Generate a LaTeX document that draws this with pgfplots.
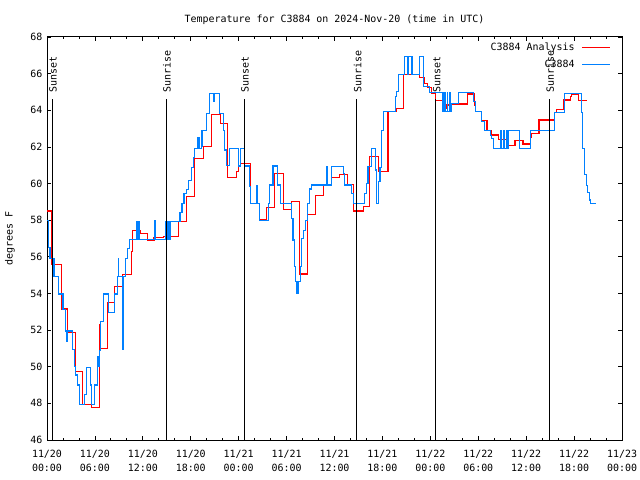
\documentclass[border=0pt]{standalone}
\usepackage{fontspec}
\setmainfont{DejaVu Sans Mono}
\usepackage{pgfplots}
\pgfplotsset{compat=1.18}
\definecolor{obsblue}{RGB}{0,128,255}
\begin{document}
\fontsize{10}{12}\selectfont
\begin{tikzpicture}
\path[use as bounding box] (0,0) rectangle (640bp,480bp);
\begin{axis}[
  at={(47bp,40bp)}, anchor=south west,
  width=575bp, height=403bp, scale only axis,
  xmin=0, xmax=72, ymin=46, ymax=68,
  clip=false,
  xtick={0,6,...,72},
  xticklabels={{11/20\\00:00},{11/20\\06:00},{11/20\\12:00},{11/20\\18:00},{11/21\\00:00},{11/21\\06:00},{11/21\\12:00},{11/21\\18:00},{11/22\\00:00},{11/22\\06:00},{11/22\\12:00},{11/22\\18:00},{11/23\\00:00}},
  xticklabel style={align=center, anchor=north, yshift=-7bp, font=\fontsize{10}{14}\selectfont},
  minor x tick num=2,
  ytick={46,48,...,68},
  yticklabel style={xshift=-1bp},
  tick align=inside,
  major tick length=4bp, minor tick length=2bp,
  tick style={black, line width=0.8bp},
  axis line style={line width=1bp},
  /pgf/number format/assume math mode=true,
  title={Temperature for C3884 on 2024-Nov-20 (time in UTC)},
  title style={at={(0.5,1)}, anchor=center, yshift=11bp},
  ylabel={degrees F},
  ylabel style={at={(axis description cs:-0.0643,0.5)}, anchor=center},
  legend style={at={(1,1)}, anchor=north east, xshift=-11bp, yshift=-4bp, draw=none, fill=none, inner sep=0pt, row sep=4bp,
    /tikz/every odd column/.append style={column sep=5bp}},
  legend plot pos=right,
  legend cell align=right,
  legend image code/.code={\draw[#1] (0bp,0bp) -- (28bp,0bp);},
]
\addplot[const plot, red, line width=1.1bp] coordinates {
(0,58.5) (0.6,55.6) (1.8,53.15) (2.6,51.85) (3.6,49.75) (4.5,47.95) (5.6,47.75)
(6.6,52.3) (6.7,51.0) (7.55,53.5) (8.5,54.4) (9.4,55.05) (10.6,56.3) (10.75,57.45)
(11.7,57.25) (12.6,56.92) (13.4,57.07) (14.6,57.1) (16.45,57.92) (17.5,59.28)
(18.5,61.38) (19.6,62.0) (20.6,63.78) (21.7,63.29) (22.6,60.34) (23.7,60.65)
(24.0,60.96) (24.2,61.07) (25.5,58.9) (26.6,58.05) (27.5,58.68) (28.5,60.56)
(29.6,58.56) (30.6,59.0) (31.6,55.06) (32.6,58.32) (33.6,59.37) (34.6,59.96)
(35.6,60.32) (36.6,60.47) (37.6,59.96) (38.4,58.5) (39.6,58.77) (40.4,61.5)
(41.5,60.65) (42.7,63.92) (43.7,64.1) (44.6,65.93) (46.6,65.8) (47.3,65.47)
(47.6,65.25) (48.2,64.93) (48.6,64.52) (49.5,64.1) (50.0,64.29) (50.7,64.34)
(52.6,64.89) (53.5,64.29) (53.7,63.92) (54.4,63.45) (55.1,62.92) (55.7,62.65)
(56.5,62.41) (57.1,62.38) (57.7,62.1) (58.6,62.34) (59.6,62.16) (60.5,62.5)
(60.7,62.72) (61.6,63.47) (63.6,63.89) (63.8,64.05) (64.7,64.56) (65.5,64.74)
(65.7,64.89) (66.6,64.51) (67.6,64.51)
};
\addlegendentry{C3884 Analysis}
\addplot[const plot, obsblue, line width=1.1bp] coordinates {
(0.0,58.0) (0.17,56.5) (0.38,55.9) (0.88,54.95) (1.4,53.97) (2.0,53.13) (2.3,51.95)
(2.45,51.4) (2.55,51.95) (3.2,50.95) (3.4,50.0) (3.6,49.55) (3.8,49.0) (4.1,47.95)
(4.7,48.46) (5.0,49.97) (5.4,49.0) (5.6,47.95) (6.0,49.0) (6.3,50.55) (6.5,50.0)
(6.6,50.9) (6.7,52.46) (7.1,53.97) (7.7,52.97) (8.4,53.97) (8.8,54.92) (8.9,55.92)
(9.0,54.92) (9.5,50.95) (9.6,54.92) (9.8,55.9) (10.1,56.46) (10.3,56.95) (11.2,57.92)
(11.3,56.95) (11.45,57.92) (11.6,56.95) (13.45,58.0) (13.55,56.95) (14.9,57.92)
(15.1,56.96) (15.2,57.92) (15.3,56.96) (15.4,57.92) (16.65,58.41) (16.9,58.92)
(17.15,59.47) (17.5,59.69) (17.7,60.19) (18.1,60.89) (18.3,61.43) (18.5,61.92)
(18.8,62.5) (18.9,61.92) (19.0,62.5) (19.1,61.92) (19.3,62.92) (19.4,62.0)
(19.5,62.92) (20.0,63.83) (20.3,64.93) (20.9,64.5) (21.0,64.93) (21.6,63.83)
(22.1,62.92) (22.2,61.83) (22.5,61.0) (22.8,61.92) (24.0,60.96) (24.2,61.92)
(24.7,60.96) (25.3,59.83) (25.5,58.92) (26.3,59.9) (26.4,58.92) (26.6,57.97)
(27.7,58.92) (27.9,59.92) (28.3,60.96) (28.9,59.92) (29.2,58.92) (30.6,58.1)
(30.8,56.92) (31.0,55.46) (31.1,54.64) (31.3,54.0) (31.5,54.64) (31.7,55.46)
(31.9,57.0) (32.1,57.46) (32.4,58.0) (32.6,58.92) (32.9,59.7) (33.1,59.92)
(35.0,60.92) (35.1,59.92) (35.65,60.92) (37.1,60.56) (37.3,59.92) (38.15,59.47)
(38.35,58.92) (39.8,59.47) (40.0,60.01) (40.2,60.92) (40.6,61.92) (41.1,60.74)
(41.3,58.92) (41.5,60.1) (41.7,60.9) (41.9,62.92) (42.1,63.92) (43.6,64.74)
(43.8,65.01) (44.0,65.93) (44.8,66.93) (45.1,65.93) (45.3,66.93) (45.7,65.93)
(46.6,66.93) (47.2,65.29) (47.9,64.96) (49.5,63.92) (49.6,64.96) (49.7,63.92)
(49.8,64.96) (49.9,63.92) (50.1,64.96) (50.2,63.92) (50.4,64.96) (50.5,63.92)
(50.7,64.38) (51.5,64.96) (53.4,64.5) (53.7,63.92) (54.4,63.38) (54.8,62.92)
(55.5,62.6) (55.7,62.47) (55.9,61.92) (56.8,62.92) (56.9,61.92) (57.2,62.92)
(57.3,61.92) (57.5,62.92) (57.6,61.92) (57.8,62.92) (59.2,61.92) (60.5,62.92)
(63.5,63.89) (64.8,64.93) (66.9,63.9) (67.1,61.9) (67.3,60.5) (67.5,59.9)
(67.7,59.5) (67.9,59.1) (68.1,58.92) (68.75,58.92)
};
\addlegendentry{C3884}
% sunrise / sunset markers
\addplot[black, line width=0.9bp, forget plot] coordinates {(0.63,46) (0.63,64.6)};
\addplot[black, line width=0.9bp, forget plot] coordinates {(14.9,46) (14.9,64.6)};
\addplot[black, line width=0.9bp, forget plot] coordinates {(24.67,46) (24.67,64.6)};
\addplot[black, line width=0.9bp, forget plot] coordinates {(38.8,46) (38.8,64.6)};
\addplot[black, line width=0.9bp, forget plot] coordinates {(48.7,46) (48.7,64.6)};
\addplot[black, line width=0.9bp, forget plot] coordinates {(62.86,46) (62.86,64.6)};
\node[rotate=90, anchor=west, inner sep=0pt] at (axis cs:0.75,64.95) {Sunset};
\node[rotate=90, anchor=west, inner sep=0pt] at (axis cs:15.0,64.95) {Sunrise};
\node[rotate=90, anchor=west, inner sep=0pt] at (axis cs:24.8,64.95) {Sunset};
\node[rotate=90, anchor=west, inner sep=0pt] at (axis cs:38.9,64.95) {Sunrise};
\node[rotate=90, anchor=west, inner sep=0pt] at (axis cs:48.8,64.95) {Sunset};
\node[rotate=90, anchor=west, inner sep=0pt] at (axis cs:63.0,64.95) {Sunrise};
\end{axis}
\end{tikzpicture}
\end{document}
